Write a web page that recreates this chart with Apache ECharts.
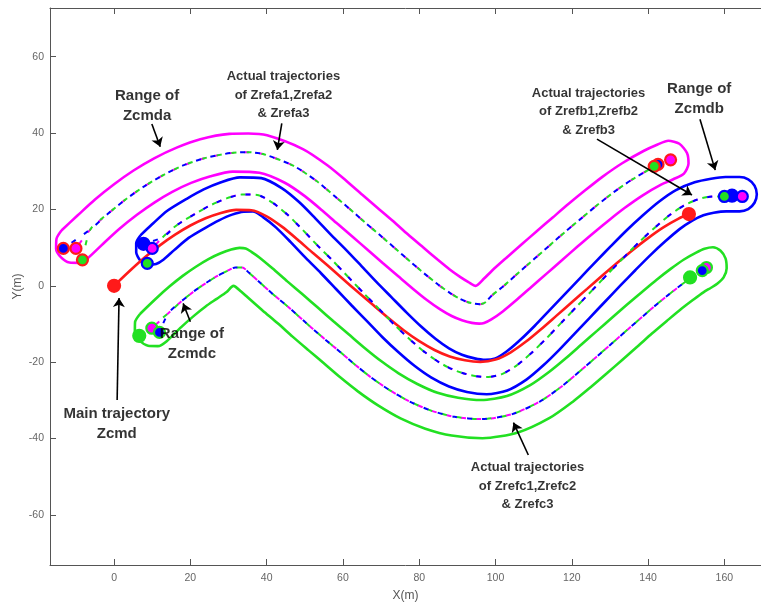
<!DOCTYPE html>
<html><head><meta charset="utf-8">
<script src="https://cdn.jsdelivr.net/npm/echarts@6/dist/echarts.min.js"></script>
<style>html,body{margin:0;padding:0;background:#fff}#c{width:761px;height:605px}</style>
</head><body><div id="c"></div>
<script>
const xTicks=[0,20,40,60,80,100,120,140,160];
const yTicks=[-60,-40,-20,0,20,40,60];

// main trajectory Zcmd
const zcmd=[[0,0],[4,3.8],[8,7.4],[12,10.6],[16,13.4],[20,15.8],[24,17.7],[28,19.1],[32,19.9],[36,19.8],[40,18.2],[44,15.5],[48,12.2],[52,8.7],[56,5.3],[60,1.8],[64,-1.7],[68,-5.1],[72,-8.5],[76,-11.7],[80,-14.5],[84,-16.8],[88,-18.5],[92,-19.5],[96,-19.9],[100,-19.3],[104,-17.4],[108,-14.6],[112,-11.3],[116,-7.8],[120,-4.3],[124,-0.8],[128,2.7],[132,6.1],[136,9.4],[140,12.5],[144,15.3],[148,17.6],[150.7,18.8]];

// range of Zcmda (closed outline)
const rangeA=[[-13.8,14.5],[-9.6,18.4],[-5,22.6],[0,26.6],[5.1,30.2],[10.5,33.4],[16.4,36.2],[22.6,38.4],[30.2,39.8],[35.2,39.9],[40.1,39.4],[49.5,35.8],[56,31.5],[61,27.4],[65,23.9],[69.1,20.4],[73.2,16.9],[77,13.5],[81,10.1],[84.8,6.9],[88,4.3],[90.8,2.3],[92.9,1.0],[94.8,0],[97,1.9],[99,3.9],[102.8,7.3],[106.8,10.8],[110.8,14.3],[115,17.9],[119.1,21.4],[123.5,25],[128.1,28.6],[133.2,32.1],[138.8,35.3],[142.5,37],[145.3,38],[148.2,37.2],[150.2,34.8],[150.6,32],[149.4,29.4],[146.6,27.9],[143.4,26.5],[138.6,23.7],[134,20.5],[129.75,17.2],[125.6,13.8],[121.5,10.3],[117.4,6.7],[113.4,3.2],[109.4,-0.3],[105.5,-3.7],[101.9,-6.7],[98.9,-8.8],[97,-9.75],[95.7,-9.9],[93.8,-9.7],[91.2,-9],[88.5,-7.9],[85.4,-6.1],[82,-3.7],[78.4,-0.8],[74.5,2.5],[70.5,5.9],[66.6,9.3],[62.6,12.8],[58.5,16.3],[54.5,19.8],[50,23.5],[44.75,27],[38.1,29.6],[31.1,29.9],[25.3,28.7],[20.2,26.95],[15.25,24.6],[10.55,21.8],[6,18.6],[1.5,15],[-2.8,11.1],[-6.9,7.25],[-9.1,6.0],[-11.7,6.1],[-13.9,7.45],[-15.2,9.7],[-15.1,12.3],[-13.8,14.5]];

// range of Zcmdb
const rangeB=[[6.9,13.2],[9.9,16.05],[13.95,19.65],[19.05,22.8],[23.5,25.25],[28.05,27.15],[33,28.4],[38.6,28.2],[43.95,25.6],[48.5,21.95],[52.7,17.75],[56.7,13.55],[60.75,9.5],[64.75,5.3],[68.7,1.1],[72.7,-2.95],[76.7,-7],[80.5,-10.65],[84.25,-13.85],[87.8,-16.35],[91.2,-18.05],[94.5,-19],[97.3,-19.4],[99.95,-19],[102.9,-17.2],[106.45,-14.2],[110.3,-10.45],[114.25,-6.3],[118.25,-2.1],[122.25,2.1],[126.3,6.35],[130.3,10.45],[134.4,14.55],[138.5,18.35],[142.75,21.95],[147.3,25.05],[152.2,27.1],[156.5,28.05],[160.3,28.5],[164,28.5],[166.25,27.9],[167.9,26.25],[168.5,24],[167.9,21.75],[166.25,20.1],[164,19.5],[160.5,19.5],[157.2,19.15],[154.5,18.5],[151.7,17.15],[148.25,14.85],[144.5,11.65],[140.6,8.05],[136.7,4.15],[132.7,0.05],[128.75,-4.1],[124.75,-8.3],[120.75,-12.5],[116.7,-16.75],[112.55,-20.8],[108.1,-24.55],[103.05,-27.4],[97.7,-28.4],[92.5,-27.8],[87.8,-26.35],[83.2,-24.05],[78.75,-20.95],[74.5,-17.35],[70.3,-13.4],[66.3,-9.25],[62.3,-5.15],[58.25,-0.9],[54.25,3.3],[50.3,7.25],[46.3,11.45],[42.5,15.25],[39.05,18],[36.4,19.45],[34,19.4],[30.95,18.65],[27.5,17.15],[23.95,15.2],[19.55,12.55],[15.75,9.35],[13,6.9],[11,5.7],[8.8,5.5],[6.9,6.6],[5.8,8.8],[5.8,11.2],[6.9,13.2]];

// range of Zcmdc
const rangeC=[[6.85,-7.3],[10.8,-3.5],[14.5,-0.2],[18,2.6],[21.45,5],[24.75,7],[27.8,8.45],[30.7,9.5],[32.9,9.95],[34.5,9.8],[36,8.9],[38,7.5],[41.5,4.6],[45.5,1.1],[49.4,-2.2],[53.4,-5.7],[57.5,-9.3],[61.5,-12.7],[65.6,-16.2],[70,-19.7],[74.6,-22.9],[79.5,-25.7],[84.8,-28],[90.2,-29.3],[96.3,-29.9],[103,-28.85],[109.1,-26],[114.1,-22.5],[118.5,-18.9],[122.6,-15.3],[126.6,-11.8],[130.6,-8.3],[134.5,-4.9],[138.4,-1.6],[142.25,1.6],[146,4.5],[149.4,6.9],[152.6,8.7],[154.8,9.7],[157,10.1],[159,9.2],[160.3,7.2],[160.6,4.6],[159.8,2.2],[158.2,0.6],[156.5,-0.5],[154.5,-1.7],[151.9,-3.6],[148.5,-6.2],[144.9,-9.2],[141,-12.5],[137.2,-15.9],[133.2,-19.4],[129.2,-22.9],[125,-26.5],[120.2,-30.4],[114.2,-34.6],[105.9,-38.4],[96.6,-39.9],[88.5,-39.2],[81.6,-37.4],[75.1,-34.7],[69.2,-31.3],[64,-27.7],[59.2,-23.9],[55,-20.3],[51,-16.9],[46.8,-13.3],[42.9,-9.8],[39,-6.5],[35,-3],[33.3,-1.5],[31.3,0],[29.5,-1.6],[26.9,-3.4],[24,-5.4],[21,-7.8],[17.6,-10.8],[13.8,-14.5],[11.5,-15.8],[8.9,-15.7],[6.7,-14.35],[5.45,-12.1],[5.5,-9.5],[6.85,-7.3]];

// actual trajectories (shared paths)
const refA=[[-6.2,14.8],[-1.7,18.8],[3,22.6],[7.8,26],[12.9,29],[18.3,31.6],[24,33.5],[30.7,34.8],[35,35],[39.1,34.5],[47.1,31.4],[53,27.5],[57.7,23.6],[61.8,20.1],[65.8,16.6],[69.9,13.1],[73.8,9.7],[77.7,6.3],[81.6,3],[85,0.3],[88.1,-1.9],[90.7,-3.4],[92.8,-4.3],[94.7,-4.7],[96,-4.8],[97.5,-4.2],[98.85,-2.7],[102.3,0.1],[106.1,3.5],[110.1,7],[114.1,10.5],[118.2,14.1],[122.4,17.6],[126.6,21.1],[131.1,24.6],[135.9,27.9],[141.1,30.9]];
const refB=[[12.75,12.7],[16.75,16.1],[21.5,19],[25.5,21.2],[29.5,22.9],[33.5,23.9],[37.5,23.8],[41.5,21.8],[45.5,18.6],[49.5,14.6],[53.5,10.4],[57.5,6.4],[61.5,2.2],[65.5,-2],[69.5,-6.1],[73.5,-10.2],[77.5,-14],[81.5,-17.4],[85.5,-20.2],[89.5,-22.2],[93.5,-23.4],[97.5,-23.9],[101.5,-23.2],[105.5,-20.9],[109.5,-17.5],[113.5,-13.6],[117.5,-9.4],[121.5,-5.2],[125.5,-1],[129.5,3.2],[133.5,7.3],[137.5,11.3],[141.5,15],[145.5,18.4],[149.5,21.1],[153.5,22.8],[157,23.4]];
const refC=[[14.2,-7.2],[17.7,-4],[21,-1.4],[24.2,0.8],[27.1,2.6],[29.7,3.9],[31.8,4.8],[33.6,4.8],[35.4,3.4],[38.3,0.8],[42.2,-2.65],[46.2,-6],[50.1,-9.5],[54.2,-13.1],[58.3,-16.5],[62.4,-20],[67,-23.7],[71.9,-27.1],[77.3,-30.2],[83.2,-32.7],[89.3,-34.3],[96.45,-34.9],[104.4,-33.6],[111.6,-30.3],[117.15,-26.5],[121.7,-22.7],[125.9,-19.1],[129.9,-15.6],[133.9,-12.1],[137.8,-8.7],[141.6,-5.4],[145.4,-2.3],[148.9,0.4],[152.1,2.7]];

// start / end points of robots (1 = green, 2 = blue, 3 = magenta)
const a1=[[-8.3,6.8],[141.6,31.3]], a2=[[-13.3,9.8],[142.6,31.8]], a3=[[-10,9.8],[145.9,33]];
const b1=[[8.7,5.9],[160,23.4]], b2=[[7.7,11],[162,23.6]], b3=[[10,9.8],[164.7,23.4]];
const c1=[[6.6,-13.1],[151,2.2]], c2=[[11.9,-12.2],[154.2,4]], c3=[[9.9,-11.1],[155.3,4.8]];
const cmdEnds=[[0,0],[150.7,18.8]];

// annotations: [x, y, text]
const notes=[[8.65,47.1,'Range of\nZcmda'],[44.4,49.9,'Actual trajectories\nof Zrefa1,Zrefa2\n& Zrefa3'],[124.4,45.6,'Actual trajectories\nof Zrefb1,Zrefb2\n& Zrefb3'],[153.4,49,'Range of\nZcmdb'],[0.7,-36.2,'Main trajectory\nZcmd'],[20.4,-15.2,'Range of\nZcmdc'],[108.4,-52.4,'Actual trajectories\nof Zrefc1,Zrefc2\n& Zrefc3']];
const arrows=[[[9.9,42.4],[12.1,36.4]],[[43.97,42.56],[42.8,35.6]],[[126.6,38.4],[151.5,23.8]],[[153.6,43.6],[157.6,30.3]],[[0.8,-29.9],[1.3,-3.2]],[[20,-9.4],[18.1,-4.6]],[[108.6,-44.3],[104.7,-35.8]]];

const MAG='#ff00ff', BLU='#0000ff', GRN='#22e022', RED='#ff1a1a';
const chart=echarts.init(document.getElementById('c'),null,{renderer:'canvas'});
function solid(data,color,w){return {type:'line',data:data,showSymbol:false,symbol:'none',smooth:0.25,lineStyle:{color:color,width:w},z:2,silent:true};}
function dashed(start,path,color,off){return {type:'line',data:[start].concat(path),showSymbol:false,symbol:'none',smooth:0.25,lineStyle:{color:color,width:2,type:[5,10],dashOffset:off},z:3,silent:true};}
function dots(data,fill,ring,size){return {type:'scatter',data:data,symbol:'circle',symbolSize:size,itemStyle:{color:fill,borderColor:ring,borderWidth:2.2,opacity:1},z:5,silent:true};}
const series=[
 solid(rangeA,MAG,2.6), solid(rangeC,GRN,2.6), solid(rangeB,BLU,2.6),
 dashed(a3[0],refA.concat([a3[1]]),MAG,10), dashed(a1[0],refA.concat([a1[1]]),GRN,0), dashed(a2[0],refA.concat([a2[1]]),BLU,5),
 dashed(b3[0],refB.concat([b3[1]]),MAG,10), dashed(b1[0],refB.concat([b1[1]]),GRN,0), dashed(b2[0],refB.concat([b2[1]]),BLU,5),
 dashed(c3[0],refC.concat([c3[1]]),MAG,10), dashed(c1[0],refC.concat([c1[1]]),GRN,0), dashed(c2[0],refC.concat([c2[1]]),BLU,5),
 solid(zcmd,RED,2.6),
 dots(a2,BLU,RED,11), dots(a3,MAG,RED,11), dots(a1,GRN,RED,11),
 dots(b2,BLU,BLU,12), dots(b3,MAG,BLU,11), dots(b1,GRN,BLU,11),
 dots(c3,MAG,GRN,11), dots(c2,BLU,GRN,11), dots(c1,GRN,GRN,12),
 dots(cmdEnds,RED,RED,12),
 {type:'lines',coordinateSystem:'cartesian2d',data:arrows.map(a=>({coords:a})),symbol:['none','arrow'],symbolSize:[0,9],lineStyle:{color:'#000',width:1.6,opacity:1},z:6,silent:true},
 {type:'scatter',data:notes.map(n=>({value:[n[0],n[1]],label:{formatter:n[2],fontSize:/Range|Main/.test(n[2])?15:13,lineHeight:/Range|Main/.test(n[2])?20:18.5}})),symbolSize:0,z:7,silent:true,
  label:{show:true,position:'inside',align:'center',verticalAlign:'middle',color:'#000',fontWeight:'bold',fontFamily:'Liberation Sans, Arial, sans-serif'}}
];
const axisCol='#555';
chart.setOption({
 animation:false,
 grid:{left:50,top:8,right:0,bottom:40,containLabel:false,outerBoundsMode:'none'},
 xAxis:[{type:'value',min:-16.8,max:169.6,position:'bottom',
   axisLine:{show:true,onZero:false,lineStyle:{color:axisCol,width:1}},
   axisTick:{show:true,inside:true,length:6,customValues:xTicks,lineStyle:{color:axisCol}},
   axisLabel:{customValues:xTicks,color:'#666',fontSize:10.5,margin:8,fontFamily:'Liberation Sans, Arial'},
   splitLine:{show:false},name:'X(m)',nameLocation:'middle',nameGap:25,nameTextStyle:{color:'#555',fontSize:12,fontFamily:'Liberation Sans, Arial'}},
  {type:'value',min:-16.8,max:169.6,position:'top',
   axisLine:{show:true,onZero:false,lineStyle:{color:axisCol,width:1}},
   axisTick:{show:true,inside:true,length:6,customValues:xTicks,lineStyle:{color:axisCol}},
   axisLabel:{show:false},splitLine:{show:false}}],
 yAxis:[{type:'value',min:-73.1,max:72.75,
   axisLine:{show:true,onZero:false,lineStyle:{color:axisCol,width:1}},
   axisTick:{show:true,inside:true,length:6,customValues:yTicks,lineStyle:{color:axisCol}},
   axisLabel:{customValues:yTicks,color:'#666',fontSize:10.5,margin:6,fontFamily:'Liberation Sans, Arial'},
   splitLine:{show:false},name:'Y(m)',nameLocation:'middle',nameGap:26,nameMoveOverlap:false,nameRotate:90,nameTextStyle:{color:'#555',fontSize:12,fontFamily:'Liberation Sans, Arial'}}],
 series:series
});
</script></body></html>
